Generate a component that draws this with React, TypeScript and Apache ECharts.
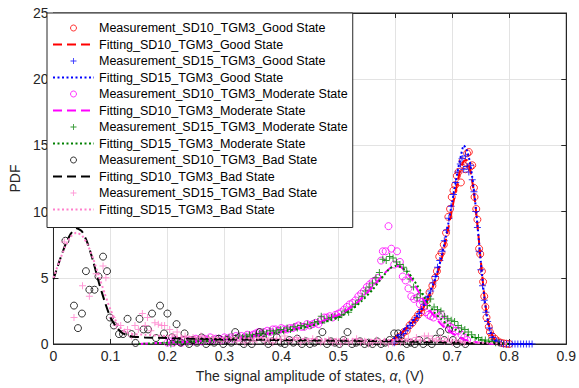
import React, { useEffect, useRef } from "react";
import * as echarts from "echarts";

// ---------- data ----------
const xTicks = [0, 0.1, 0.2, 0.3, 0.4, 0.5, 0.6, 0.7, 0.8, 0.9];
const yTicks = [0, 5, 10, 15, 20, 25];

const seriesNames = [
  "Measurement_SD10_TGM3_Good State",
  "Fitting_SD10_TGM3_Good State",
  "Measurement_SD15_TGM3_Good State",
  "Fitting_SD15_TGM3_Good State",
  "Measurement_SD10_TGM3_Moderate State",
  "Fitting_SD10_TGM3_Moderate State",
  "Measurement_SD15_TGM3_Moderate State",
  "Fitting_SD15_TGM3_Moderate State",
  "Measurement_SD10_TGM3_Bad State",
  "Fitting_SD10_TGM3_Bad State",
  "Measurement_SD15_TGM3_Bad State",
  "Fitting_SD15_TGM3_Bad State",
];

const goodSD10Meas = [
  [0.600, 0.2], [0.605, 0.5], [0.610, 0.6], [0.615, 0.9], [0.620, 1.0], [0.625, 1.4], [0.630, 1.6],
  [0.635, 1.9], [0.640, 2.2], [0.645, 2.4], [0.650, 2.8], [0.655, 3.3], [0.660, 3.9], [0.665, 4.4],
  [0.670, 5.0], [0.673, 5.5], [0.677, 6.6], [0.681, 6.9], [0.685, 7.5], [0.689, 8.4], [0.693, 9.6],
  [0.696, 10.2], [0.699, 11.1], [0.702, 11.6], [0.705, 12.0], [0.708, 12.7], [0.711, 13.0],
  [0.715, 12.2], [0.718, 13.8], [0.720, 13.5], [0.723, 13.2], [0.726, 14.4], [0.729, 14.5],
  [0.732, 13.4], [0.735, 13.5], [0.738, 11.8], [0.739, 11.1], [0.742, 10.2], [0.744, 9.4],
  [0.747, 7.2], [0.749, 6.8], [0.752, 5.5], [0.754, 4.7], [0.756, 3.6], [0.758, 2.8], [0.760, 2.0],
  [0.764, 1.3], [0.766, 0.9], [0.770, 0.6], [0.775, 0.4], [0.780, 0.2], [0.785, 0.1], [0.790, 0.05],
  [0.795, 0.02], [0.800, 0.0],
];
const goodSD10Fit = [
  [0.59, 0.2], [0.60, 0.45], [0.61, 0.8], [0.62, 1.2], [0.63, 1.6], [0.64, 2.1], [0.65, 2.8],
  [0.66, 3.7], [0.67, 4.8], [0.68, 6.2], [0.69, 8.1], [0.70, 10.3], [0.71, 12.4], [0.715, 13.3],
  [0.72, 13.8], [0.725, 13.9], [0.73, 13.4], [0.735, 12.3], [0.74, 10.7], [0.745, 8.6], [0.75, 6.3],
  [0.755, 4.1], [0.76, 2.4], [0.765, 1.3], [0.77, 0.65], [0.775, 0.3], [0.78, 0.12], [0.79, 0.02],
  [0.80, 0.0],
];
const goodSD15Meas = [
  [0.598, 0.1], [0.602, 0.3], [0.606, 0.5], [0.610, 0.7], [0.614, 0.8], [0.618, 1.0], [0.622, 1.2],
  [0.626, 1.4], [0.630, 1.6], [0.634, 1.8], [0.638, 2.0], [0.642, 2.3], [0.646, 2.6], [0.650, 3.0],
  [0.654, 3.3], [0.658, 3.6], [0.662, 4.0], [0.666, 4.6], [0.670, 5.1], [0.674, 5.8], [0.678, 6.3],
  [0.682, 7.0], [0.686, 7.8], [0.690, 8.6], [0.694, 9.5], [0.698, 10.4], [0.702, 11.3],
  [0.706, 12.2], [0.710, 13.0], [0.714, 13.6], [0.717, 14.0], [0.720, 13.2], [0.723, 14.2],
  [0.726, 13.4], [0.729, 13.0], [0.732, 13.5], [0.735, 12.4], [0.738, 11.5], [0.741, 10.0],
  [0.744, 8.8], [0.747, 7.0], [0.750, 5.6], [0.753, 4.4], [0.756, 3.3], [0.759, 2.4], [0.762, 1.7],
  [0.765, 1.2], [0.768, 0.8], [0.771, 0.5], [0.774, 0.3], [0.778, 0.2], [0.782, 0.1], [0.786, 0.05],
  [0.790, 0.0], [0.795, 0.0], [0.800, 0.0], [0.805, 0.0], [0.810, 0.0], [0.815, 0.0], [0.820, 0.0],
  [0.825, 0.0], [0.830, 0.0], [0.835, 0.0], [0.840, 0.0],
];
const goodSD15Fit = [
  [0.59, 0.2], [0.60, 0.5], [0.61, 0.9], [0.62, 1.3], [0.63, 1.7], [0.64, 2.2], [0.65, 2.9],
  [0.66, 3.8], [0.67, 4.9], [0.68, 6.4], [0.69, 8.4], [0.70, 10.8], [0.71, 13.2], [0.715, 14.2],
  [0.72, 15.0], [0.725, 14.7], [0.73, 13.9], [0.735, 12.6], [0.74, 10.8], [0.745, 8.6], [0.75, 6.2],
  [0.755, 4.0], [0.76, 2.3], [0.765, 1.2], [0.77, 0.6], [0.775, 0.3], [0.78, 0.12], [0.79, 0.03],
  [0.80, 0.01], [0.84, 0.0],
];

const modSD10Meas = [
  [0.200, 0.1], [0.205, 0.2], [0.210, 0.1], [0.215, 0.3], [0.220, 0.2], [0.225, 0.1], [0.230, 0.3],
  [0.235, 0.2], [0.240, 0.3], [0.245, 0.2], [0.250, 0.4], [0.255, 0.3], [0.260, 0.2], [0.265, 0.4],
  [0.270, 0.3], [0.275, 0.5], [0.280, 0.3], [0.285, 0.4], [0.290, 0.4], [0.295, 0.3], [0.300, 0.5],
  [0.305, 0.4], [0.310, 0.5], [0.315, 0.4], [0.320, 0.6], [0.325, 0.5], [0.330, 0.6], [0.335, 0.5],
  [0.340, 0.7], [0.345, 0.6], [0.350, 0.7], [0.355, 0.8], [0.360, 0.9], [0.365, 0.8], [0.370, 0.9],
  [0.375, 1.0], [0.380, 0.9], [0.385, 1.1], [0.390, 1.1], [0.395, 1.0], [0.400, 1.2], [0.405, 1.1],
  [0.410, 1.1], [0.415, 1.2], [0.420, 1.2], [0.425, 1.3], [0.430, 1.4], [0.435, 1.3], [0.440, 1.3],
  [0.445, 1.5], [0.450, 1.4], [0.455, 1.5], [0.460, 1.6], [0.465, 1.5], [0.470, 1.8], [0.475, 2.0],
  [0.480, 2.0], [0.485, 2.1], [0.490, 2.0], [0.495, 2.2], [0.500, 2.3], [0.505, 2.4], [0.510, 2.6],
  [0.515, 2.8], [0.520, 3.0], [0.525, 3.1], [0.530, 3.3], [0.535, 3.6], [0.540, 3.8], [0.545, 4.0],
  [0.550, 4.3], [0.555, 4.5], [0.560, 4.7], [0.565, 4.8], [0.570, 5.0], [0.575, 6.3], [0.578, 7.0],
  [0.583, 7.0], [0.588, 8.9], [0.593, 7.2], [0.598, 6.0], [0.603, 7.0], [0.608, 6.2], [0.613, 5.1],
  [0.618, 4.8], [0.623, 4.2], [0.628, 3.6], [0.633, 3.4], [0.638, 3.5], [0.643, 3.0], [0.648, 3.2],
  [0.653, 2.4], [0.658, 2.2], [0.662, 2.1], [0.667, 2.0], [0.672, 2.3], [0.677, 2.1], [0.681, 2.2],
  [0.686, 1.8], [0.691, 1.5], [0.696, 1.3], [0.701, 1.2], [0.706, 1.0], [0.711, 1.0], [0.716, 0.7],
  [0.721, 0.5], [0.726, 0.3],
];
const modSD10Fit = [
  [0.15, 0.0], [0.20, 0.1], [0.25, 0.2], [0.30, 0.35], [0.35, 0.6], [0.40, 0.95], [0.45, 1.4],
  [0.50, 2.2], [0.52, 2.7], [0.54, 3.4], [0.56, 4.3], [0.58, 5.3], [0.59, 5.7], [0.60, 5.9],
  [0.61, 5.8], [0.62, 5.4], [0.63, 4.8], [0.64, 4.0], [0.65, 3.3], [0.66, 2.6], [0.67, 2.0],
  [0.68, 1.5], [0.69, 1.1], [0.70, 0.8], [0.72, 0.35], [0.74, 0.15], [0.76, 0.05], [0.78, 0.0],
];
const modSD15Meas = [
  [0.200, 0.1], [0.206, 0.0], [0.212, 0.1], [0.218, 0.2], [0.224, 0.1], [0.230, 0.2], [0.236, 0.1],
  [0.242, 0.2], [0.248, 0.3], [0.254, 0.2], [0.260, 0.3], [0.266, 0.2], [0.272, 0.4], [0.278, 0.3],
  [0.284, 0.3], [0.290, 0.4], [0.296, 0.3], [0.302, 0.4], [0.308, 0.5], [0.314, 0.4], [0.320, 0.5],
  [0.326, 0.6], [0.332, 0.5], [0.338, 0.6], [0.344, 0.7], [0.350, 0.6], [0.356, 0.7], [0.362, 0.8],
  [0.368, 0.9], [0.374, 0.8], [0.380, 1.0], [0.386, 0.9], [0.392, 1.0], [0.398, 1.1], [0.404, 1.0],
  [0.410, 1.2], [0.416, 1.1], [0.422, 1.3], [0.428, 1.2], [0.434, 1.4], [0.440, 1.3], [0.446, 1.5],
  [0.452, 1.4], [0.458, 1.6], [0.464, 1.7], [0.470, 2.1], [0.476, 1.8], [0.482, 1.9], [0.488, 2.0],
  [0.494, 2.1], [0.500, 2.0], [0.506, 2.2], [0.512, 2.5], [0.518, 2.4], [0.524, 2.8], [0.530, 3.0],
  [0.536, 3.3], [0.542, 3.6], [0.548, 4.0], [0.554, 4.3], [0.560, 4.6], [0.566, 5.0], [0.572, 5.4],
  [0.578, 6.4], [0.584, 6.3], [0.590, 6.6], [0.596, 6.5], [0.602, 6.2], [0.608, 6.0], [0.614, 5.8],
  [0.620, 5.5], [0.626, 4.9], [0.632, 4.3], [0.638, 3.5], [0.644, 3.8], [0.650, 3.2], [0.656, 2.9],
  [0.662, 3.4], [0.668, 2.8], [0.674, 2.6], [0.680, 2.5], [0.686, 2.1], [0.692, 1.9], [0.698, 1.8],
  [0.704, 1.7], [0.710, 1.4], [0.716, 1.2], [0.722, 1.1], [0.728, 0.9], [0.734, 0.7], [0.740, 0.5],
  [0.746, 0.5], [0.752, 0.3], [0.758, 0.3], [0.764, 0.2], [0.770, 0.2], [0.776, 0.1], [0.782, 0.1],
];
const modSD15Fit = [
  [0.15, 0.0], [0.20, 0.1], [0.25, 0.2], [0.30, 0.35], [0.35, 0.6], [0.40, 0.9], [0.45, 1.35],
  [0.50, 2.0], [0.52, 2.5], [0.54, 3.2], [0.56, 4.1], [0.58, 5.2], [0.59, 5.7], [0.60, 5.9],
  [0.61, 5.8], [0.62, 5.5], [0.63, 5.0], [0.64, 4.3], [0.65, 3.6], [0.66, 2.9], [0.67, 2.3],
  [0.68, 1.9], [0.69, 1.5], [0.70, 1.2], [0.72, 0.8], [0.74, 0.45], [0.76, 0.2], [0.78, 0.07],
  [0.80, 0.0],
];

const badSD10Meas = [
  [0.021, 7.8], [0.036, 2.9], [0.043, 1.2], [0.050, 2.3], [0.057, 5.5], [0.063, 4.1], [0.072, 4.1],
  [0.079, 5.1], [0.087, 6.6], [0.094, 5.5], [0.099, 2.0], [0.106, 1.4], [0.115, 0.75], [0.122, 0.75],
  [0.130, 1.9], [0.137, 0.75], [0.144, 0.08], [0.151, 1.9], [0.158, 1.1], [0.166, 1.1], [0.173, 2.3],
  [0.180, 0.45], [0.187, 2.9], [0.194, 0.8], [0.200, 2.3], [0.208, 0.5], [0.216, 1.5], [0.223, 0.1],
  [0.230, 0.8], [0.238, 0.0], [0.245, 0.3], [0.252, 0.1], [0.260, 0.5], [0.268, 0.0], [0.275, 0.2],
  [0.282, 0.1], [0.290, 0.4], [0.298, 0.0], [0.305, 0.3], [0.312, 0.1], [0.319, 0.9], [0.326, 0.2],
  [0.334, 0.0], [0.341, 0.3], [0.348, 0.0], [0.355, 0.5], [0.362, 0.9], [0.370, 0.3], [0.377, 0.0],
  [0.384, 0.2], [0.392, 0.5], [0.399, 0.1], [0.406, 0.0], [0.414, 0.3], [0.421, 0.1], [0.428, 0.4],
  [0.436, 0.0], [0.443, 0.2], [0.450, 0.0], [0.458, 0.1], [0.465, 0.3], [0.472, 0.9], [0.480, 0.0],
  [0.487, 0.2], [0.494, 0.1], [0.502, 0.0], [0.509, 0.3], [0.516, 0.9], [0.524, 0.0], [0.531, 0.1],
  [0.538, 0.2], [0.546, 0.0], [0.553, 0.1], [0.560, 0.0], [0.568, 0.2], [0.575, 0.0], [0.582, 0.1],
  [0.590, 0.3], [0.598, 0.8], [0.605, 0.8], [0.612, 0.2], [0.620, 0.0], [0.627, 0.1], [0.634, 0.0],
  [0.642, 0.3], [0.649, 0.0], [0.656, 0.2], [0.664, 0.0], [0.671, 0.4], [0.679, 0.9], [0.686, 0.3],
  [0.694, 1.1], [0.701, 0.3], [0.708, 0.0], [0.716, 0.2], [0.723, 0.0],
];
const badSD10Fit = [
  [0.0, 4.9], [0.01, 6.2], [0.02, 7.4], [0.03, 8.3], [0.04, 8.75], [0.05, 8.5], [0.06, 7.6],
  [0.07, 6.2], [0.08, 4.6], [0.09, 3.2], [0.10, 2.0], [0.11, 1.3], [0.12, 0.85], [0.13, 0.65],
  [0.14, 0.55], [0.16, 0.5], [0.20, 0.45], [0.25, 0.4], [0.30, 0.35], [0.40, 0.3], [0.50, 0.25],
  [0.60, 0.2], [0.70, 0.1], [0.75, 0.05], [0.80, 0.0],
];
const badSD15Meas = [
  [0.019, 7.7], [0.036, 2.0], [0.051, 4.4], [0.063, 3.6], [0.075, 5.3], [0.087, 5.9], [0.092, 5.0],
  [0.103, 2.0], [0.110, 1.4], [0.118, 1.4], [0.125, 0.9], [0.130, 1.1], [0.137, 0.6], [0.143, 1.4],
  [0.149, 1.1], [0.156, 2.3], [0.161, 1.4], [0.165, 2.0], [0.171, 1.0], [0.178, 1.6], [0.184, 1.5],
  [0.190, 1.4], [0.195, 1.4], [0.204, 1.1], [0.210, 0.7], [0.217, 0.9], [0.224, 0.5], [0.231, 0.6],
  [0.238, 0.4], [0.245, 0.5], [0.252, 0.3], [0.259, 0.6], [0.266, 0.4], [0.273, 0.3], [0.280, 0.5],
  [0.287, 0.3], [0.294, 0.2], [0.301, 0.4], [0.308, 0.3], [0.315, 0.5], [0.322, 0.2], [0.329, 0.3],
  [0.336, 0.1], [0.343, 0.4], [0.350, 0.2], [0.357, 0.3], [0.364, 0.5], [0.371, 0.2], [0.378, 0.3],
  [0.385, 0.1], [0.392, 0.4], [0.399, 0.3], [0.406, 0.6], [0.413, 0.2], [0.420, 0.3], [0.427, 0.5],
  [0.434, 0.1], [0.441, 0.3], [0.448, 0.2], [0.455, 0.4], [0.462, 0.3], [0.469, 0.1], [0.476, 0.2],
  [0.483, 0.3], [0.490, 0.1], [0.497, 0.2], [0.504, 0.0], [0.511, 0.3], [0.518, 0.1], [0.525, 0.2],
  [0.532, 0.4], [0.539, 0.1], [0.546, 0.2], [0.553, 0.0], [0.560, 0.1], [0.567, 0.3], [0.574, 0.1],
  [0.581, 0.2], [0.588, 0.0], [0.595, 0.1], [0.602, 0.3], [0.609, 0.1], [0.616, 0.2], [0.623, 0.4],
  [0.630, 0.2], [0.637, 0.5], [0.644, 0.3], [0.651, 0.6], [0.658, 0.6], [0.665, 0.4], [0.672, 0.3],
  [0.679, 0.5], [0.686, 0.2], [0.693, 0.4], [0.700, 0.1], [0.707, 0.3], [0.714, 0.2], [0.721, 0.1],
];
const badSD15Fit = [
  [0.0, 5.0], [0.01, 6.2], [0.02, 7.3], [0.03, 8.1], [0.04, 8.4], [0.05, 8.2], [0.06, 7.5],
  [0.07, 6.4], [0.08, 5.1], [0.09, 3.8], [0.10, 2.6], [0.11, 1.7], [0.12, 1.1], [0.13, 0.85],
  [0.14, 0.75], [0.16, 0.7], [0.20, 0.6], [0.30, 0.45], [0.40, 0.4], [0.50, 0.35], [0.60, 0.3],
  [0.70, 0.2], [0.75, 0.1], [0.80, 0.03],
];

// ---------- styling ----------
const FONT = "'Liberation Sans', Arial, Helvetica, sans-serif";
const AXIS_COLOR = "#262626";
const GRID_COLOR = "#e3e3e3";
const PLUS = "path://M0,3h7v1h-7zM3,0h1v7h-1z";

function measSeries(name: string, data: number[][], color: string, plus: boolean) {
  return {
    name,
    type: "scatter",
    data,
    symbol: plus ? PLUS : "circle",
    symbolSize: 7,
    itemStyle: plus
      ? { color, borderWidth: 0 }
      : { color: "rgba(0,0,0,0)", borderColor: color, borderWidth: 1 },
    emphasis: { disabled: true },
  };
}

function fitSeries(name: string, data: number[][], color: string, dash: number[]) {
  return {
    name,
    type: "line",
    data,
    symbol: "none",
    showSymbol: false,
    smooth: 0.2,
    lineStyle: { color, width: 2, type: dash },
    itemStyle: { color },
    emphasis: { disabled: true },
  };
}

const DASH = [9, 5];
const DOT = [2, 2.5];

export default function App() {
  const ref = useRef<HTMLDivElement>(null);
  useEffect(() => {
    if (!ref.current) return;
    const chart = echarts.init(ref.current, undefined, { renderer: "svg" });
    const xAxisCommon = {
      type: "value",
      min: xTicks[0],
      max: xTicks[xTicks.length - 1],
      interval: 0.1,
    };
    const yAxisCommon = {
      type: "value",
      min: yTicks[0],
      max: yTicks[yTicks.length - 1],
      interval: 5,
    };
    const legendData = seriesNames.map((n, i) =>
      i % 2 === 1
        ? { name: n, itemStyle: { opacity: 0 } }
        : { name: n, itemStyle: { borderWidth: 1 } }
    );
    chart.setOption({
      animation: false,
      backgroundColor: "#ffffff",
      textStyle: { fontFamily: FONT },
      grid: {
        left: 46,
        right: 8,
        top: 13,
        bottom: 43,
        show: true,
        borderColor: AXIS_COLOR,
        borderWidth: 1,
        backgroundColor: "rgba(0,0,0,0)",
      },
      legend: {
        orient: "vertical",
        left: 47,
        top: 13,
        data: legendData,
        itemWidth: 41,
        itemHeight: 6,
        itemGap: 2.5,
        padding: [8, 5, 11, 5],
        backgroundColor: "#ffffff",
        borderColor: AXIS_COLOR,
        borderWidth: 1,
        borderRadius: 0,
        selectedMode: false,
        textStyle: {
          fontFamily: FONT,
          fontSize: 12.5,
          lineHeight: 14,
          color: "#000000",
          padding: [0, 0, 0, 0],
        },
      },
      xAxis: [
        {
          ...xAxisCommon,
          position: "bottom",
          name: "The signal amplitude of states, {i|α}, (V)",
          nameLocation: "middle",
          nameGap: 25,
          nameTextStyle: {
            fontFamily: FONT,
            fontSize: 14,
            color: AXIS_COLOR,
            rich: { i: { fontFamily: FONT, fontSize: 14, fontStyle: "italic", color: AXIS_COLOR } },
          },
          axisLine: { show: true, onZero: false, lineStyle: { color: AXIS_COLOR, width: 1 } },
          axisTick: { show: true, inside: true, length: 5, lineStyle: { color: AXIS_COLOR } },
          axisLabel: {
            margin: 5,
            fontFamily: FONT,
            fontSize: 14,
            color: AXIS_COLOR,
            formatter: (v: number) => String(Math.round(v * 10) / 10),
          },
          splitLine: { show: true, lineStyle: { color: GRID_COLOR, width: 1 } },
        },
        {
          ...xAxisCommon,
          position: "top",
          axisLine: { show: true, onZero: false, lineStyle: { color: AXIS_COLOR, width: 1 } },
          axisTick: { show: true, inside: true, length: 5, lineStyle: { color: AXIS_COLOR } },
          axisLabel: { show: false },
          splitLine: { show: false },
        },
      ],
      yAxis: [
        {
          ...yAxisCommon,
          position: "left",
          name: "PDF",
          nameLocation: "middle",
          nameGap: 27,
          nameTextStyle: { fontFamily: FONT, fontSize: 14, color: AXIS_COLOR },
          axisLine: { show: true, onZero: false, lineStyle: { color: AXIS_COLOR, width: 1 } },
          axisTick: { show: true, inside: true, length: 5, lineStyle: { color: AXIS_COLOR } },
          axisLabel: { margin: 5, fontFamily: FONT, fontSize: 14, color: AXIS_COLOR },
          splitLine: { show: true, lineStyle: { color: GRID_COLOR, width: 1 } },
        },
        {
          ...yAxisCommon,
          position: "right",
          axisLine: { show: true, onZero: false, lineStyle: { color: AXIS_COLOR, width: 1 } },
          axisTick: { show: true, inside: true, length: 5, lineStyle: { color: AXIS_COLOR } },
          axisLabel: { show: false },
          splitLine: { show: false },
        },
      ],
      series: [
        measSeries(seriesNames[0], goodSD10Meas, "#ff0000", false),
        fitSeries(seriesNames[1], goodSD10Fit, "#ff0000", DASH),
        measSeries(seriesNames[2], goodSD15Meas, "#0000ff", true),
        fitSeries(seriesNames[3], goodSD15Fit, "#0000ff", DOT),
        measSeries(seriesNames[4], modSD10Meas, "#ff00ff", false),
        fitSeries(seriesNames[5], modSD10Fit, "#ff00ff", DASH),
        measSeries(seriesNames[6], modSD15Meas, "#008000", true),
        fitSeries(seriesNames[7], modSD15Fit, "#008000", DOT),
        measSeries(seriesNames[8], badSD10Meas, "#000000", false),
        fitSeries(seriesNames[9], badSD10Fit, "#000000", DASH),
        measSeries(seriesNames[10], badSD15Meas, "#ff80cc", true),
        fitSeries(seriesNames[11], badSD15Fit, "#ff80cc", DOT),
      ],
    });
    return () => chart.dispose();
  }, []);
  return (
    <div
      ref={ref}
      style={{ position: "fixed", left: 0, top: 0, width: 579, height: 388 }}
    />
  );
}
